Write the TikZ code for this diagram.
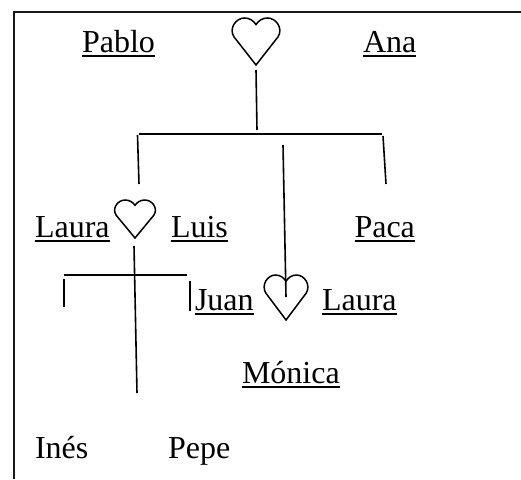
\documentclass[tikz,border=0pt]{standalone}
\usepackage{fontspec}
\setmainfont{Liberation Serif}
\newsavebox{\ulbox}
\newcommand{\ulname}[1]{\sbox{\ulbox}{#1}\leavevmode\rlap{\rule[-4.8pt]{\wd\ulbox}{2pt}}#1}
\tikzset{
  x=1pt,y=-1pt,
  person/.style={anchor=base west,inner sep=0pt,outer sep=0pt,font=\fontsize{32}{32}\selectfont},
  conn/.style={draw=black,line width=1.6pt},
  frameline/.style={draw=black!90,line width=1.8pt},
  heartline/.style={draw=black,line width=1.5pt,line join=miter},
}
\newcommand{\heartat}[5]{% name, left, top, width, height
  \begin{scope}[shift={(#2,#3)},x=#4pt,y=-#5pt]
    \draw[heartline] (0.5,1) -- (0.04,0.40)
      .. controls (-0.07,0.22) and (0.08,0) .. (0.26,0)
      .. controls (0.37,0) and (0.45,0.06) .. (0.5,0.14)
      .. controls (0.55,0.06) and (0.63,0) .. (0.74,0)
      .. controls (0.92,0) and (1.07,0.22) .. (0.96,0.40) -- cycle;
    \coordinate (#1) at (0.5,0.5);
  \end{scope}}
\begin{document}
\begin{tikzpicture}
\useasboundingbox (0,0) rectangle (521,479);
\fill[white] (0,0) rectangle (521,479);
% frame
\coordinate (fbl) at (14,479);
\coordinate (ftl) at (14,12);
\coordinate (ftr) at (521,12);
\draw[frameline] (fbl) -- (ftl) -- (ftr);
% names
\node[person] (pablo) at (82,52) {\ulname{Pablo}};
\node[person] (ana) at (363,52) {\ulname{Ana}};
\node[person] (laura1) at (35,237) {\ulname{Laura}};
\node[person] (luis) at (171,237) {\ulname{Luis}};
\node[person] (paca) at (354.5,237) {\ulname{Paca}};
\node[person] (juan) at (195,310) {\ulname{Juan}};
\node[person] (laura2) at (322,310) {\ulname{Laura}};
\node[person] (monica) at (242,383) {\ulname{Mónica}};
\node[person] (ines) at (35,458) {Inés};
\node[person] (pepe) at (168,458) {Pepe};
% hearts
\heartat{h1}{232}{18}{48}{47}
\heartat{h2}{114.5}{200}{41}{38}
\heartat{h3}{264}{275}{44}{45}
% connector ends
\coordinate (a1) at (256,70);  \coordinate (a2) at (257,130);
\coordinate (b1) at (139,134); \coordinate (b2) at (382,134);
\coordinate (c1) at (137.5,135); \coordinate (c2) at (139,184);
\coordinate (d1) at (383,136); \coordinate (d2) at (386,184);
\coordinate (e1) at (283,145); \coordinate (e2) at (286,297);
\coordinate (f1) at (134,246); \coordinate (f2) at (137,393);
\coordinate (g1) at (64,275);  \coordinate (g2) at (187,275);
\coordinate (i1) at (64,279);  \coordinate (i2) at (64,307);
\coordinate (j1) at (190,281); \coordinate (j2) at (190,311);
\draw[conn] (a1) -- (a2);
\draw[conn] (b1) -- (b2);
\draw[conn] (c1) -- (c2);
\draw[conn] (d1) -- (d2);
\draw[conn] (e1) -- (e2);
\draw[conn] (f1) -- (f2);
\draw[conn] (g1) -- (g2);
\draw[conn] (i1) -- (i2);
\draw[conn] (j1) -- (j2);
\end{tikzpicture}
\end{document}
